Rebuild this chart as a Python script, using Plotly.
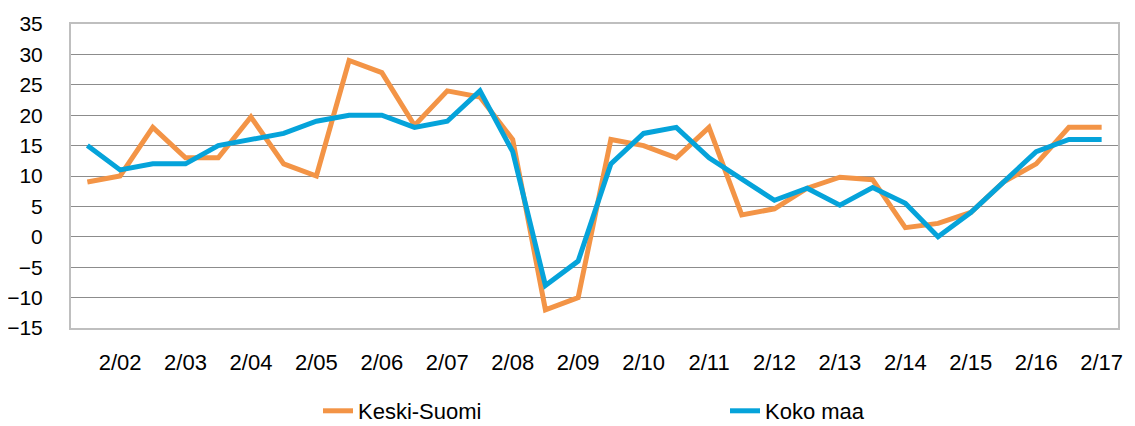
import plotly.graph_objects as go

categories = []
for yy in range(1, 17):
    categories.append(f"8/{yy:02d}")
    categories.append(f"2/{yy+1:02d}")
tick_labels = [f"2/{y:02d}" for y in range(2, 18)]

keski_suomi = [9, 10, 18, 13, 13, 19.7, 12, 10, 29, 27, 18.3, 24, 23, 16, -12, -10,
               16, 15, 13, 18, 3.6, 4.6, 8, 9.8, 9.4, 1.5, 2.2, 4, 9, 12, 18, 18]
koko_maa = [15, 11, 12, 12, 15, 16, 17, 19, 20, 20, 18, 19, 24, 14, -8, -4,
            12, 17, 18, 13, 9.5, 6, 8, 5.2, 8.1, 5.5, 0, 4, 9, 14, 16, 16]

# page body has an 8px margin; figure is sized to fit the window
OFF = 8
W, H = 1135 - OFF, 426 - OFF
L, R, T, B = 71 - OFF, 17, 24 - OFF, 98
PH = H - T - B
FONT = "Liberation Sans, Arial, sans-serif"

fig = go.Figure()
fig.add_trace(go.Scatter(x=categories, y=keski_suomi, mode="lines", name="Keski-Suomi",
                         line=dict(color="#F39446", width=5), legend="legend", showlegend=True))
fig.add_trace(go.Scatter(x=categories, y=koko_maa, mode="lines", name="Koko maa",
                         line=dict(color="#05A3DA", width=5), legend="legend2", showlegend=True))

leg_y = ((H - B) - (411 - OFF)) / PH

fig.update_layout(
    width=W, height=H,
    showlegend=True,
    margin=dict(l=L, r=R, t=T, b=B, autoexpand=False),
    paper_bgcolor="white", plot_bgcolor="white",
    font=dict(family=FONT, color="#000000", size=21),
    legend=dict(orientation="h", x=(318 - OFF - L) / (W - L - R), y=leg_y,
                xanchor="left", yanchor="middle",
                font=dict(size=22), bgcolor="rgba(0,0,0,0)"),
    legend2=dict(orientation="h", x=(725 - OFF - L) / (W - L - R), y=leg_y,
                 xanchor="left", yanchor="middle",
                 font=dict(size=22), bgcolor="rgba(0,0,0,0)"),
    xaxis=dict(type="category", categoryorder="array", categoryarray=categories,
               tickmode="array", tickvals=tick_labels, ticktext=tick_labels,
               showgrid=False, showline=True, linecolor="#BFBFBF", linewidth=2, mirror=True,
               ticks="", ticklabelstandoff=14, tickfont=dict(size=22), automargin=False,
               range=[-0.5, len(categories) - 0.5]),
    yaxis=dict(range=[-15, 35], tickmode="linear", tick0=-15, dtick=5,
               showgrid=True, gridcolor="#8C8C8C", gridwidth=1,
               showline=True, linecolor="#BFBFBF", linewidth=2, mirror=True, automargin=False,
               zeroline=False, ticks="", ticklabelstandoff=22, tickfont=dict(size=21)),
)

fig.write_html("out.html")
